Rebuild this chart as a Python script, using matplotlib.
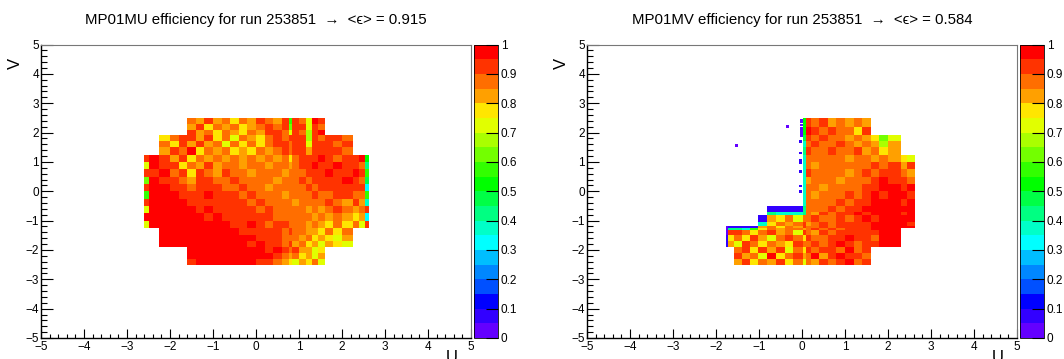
import numpy as np
import matplotlib
matplotlib.use('Agg')
import matplotlib.pyplot as plt
from matplotlib.colors import ListedColormap
from matplotlib.ticker import MultipleLocator

plt.rcParams['font.family'] = ['Liberation Sans', 'DejaVu Sans']

n = np.nan

titles = ['MP01MU efficiency for run 253851  \u2192  <\u03f5> = 0.915',
          'MP01MV efficiency for run 253851  \u2192  <\u03f5> = 0.584']

# ROOT palette, bottom to top
palette = ['#6400ff', '#3200ff', '#0000ff', '#0050ff', '#0087ff', '#00beff', '#00ffff',
           '#00ffc8', '#00ff82', '#00ff46', '#00ff00', '#32ff00', '#73ff00', '#aaff00',
           '#e1ff00', '#ffe600', '#ffa000', '#ff6e00', '#ff3300', '#ff0000']

mu_u = [-2.6, -2.5, -2.25, -2.0, -1.8, -1.6, -1.4, -1.2, -1.0, -0.8, -0.6, -0.4, -0.2, 0, 0.2,
        0.4, 0.6, 0.77, 0.83, 1.0, 1.17, 1.3, 1.45, 1.6, 1.8, 2.0, 2.25, 2.4, 2.54, 2.63]
mu_v = [-2.5, -2.3, -2.1, -1.89, -1.7, -1.5, -1.24, -1, -0.75, -0.5, -0.25, 0, 0.25, 0.5, 0.75,
        1, 1.235, 1.5, 1.7, 1.92, 2.1, 2.3, 2.5]

# rows written top (v=2.5) to bottom (v=-2.5)
mu_eff = [
    [n]*5 + [.87, .82, .92, .82, .87, .77, .87, .82, .92, .87, .82, .92, .55, .92, .87, .72, .97, .92] + [n]*6,
    [n]*5 + [.82, .92, .77, .87, .82, .87, .77, .82, .87, .92, .87, .92, .62, .92, .92, .72, .92, .87] + [n]*6,
    [n]*5 + [.92, .82, .87, .77, .87, .82, .77, .87, .82, .92, .92, .87, .72, .92, .87, .68, .92, .97] + [n]*6,
    [n]*2 + [.77, .87, .92, .92, .82, .92, .77, .87, .72, .87, .82, .77, .87, .92, .87, .92, .92, .92, .68, .92, .87, .92, .92, .87] + [n]*3,
    [n]*2 + [.87, .77, .92, .82, .92, .82, .87, .72, .87, .77, .87, .77, .87, .92, .92, .87, .92, .92, .72, .92, .92, .92, .87, .92] + [n]*3,
    [n]*2 + [.82, .92, .87, .97, .77, .87, .82, .87, .77, .82, .77, .87, .82, .87, .92, .87, .92, .92, .82, .92, .92, .92, .92, .87] + [n]*3,
    [.92, .97, .92, .82, .92, .77, .87, .82, .87, .82, .87, .82, .87, .82, .87, .82, .87, .77, .87, .92, .92, .92, .97, .92, .87, .92, .92, .97, .50],
    [.72, .97, .92, .92, .77, .87, .82, .92, .82, .87, .87, .82, .87, .87, .82, .87, .87, .82, .87, .92, .92, .97, .92, .92, .97, .92, .92, .87, .40],
    [.92, .92, .97, .87, .92, .77, .92, .87, .82, .92, .87, .87, .82, .87, .87, .87, .82, .87, .87, .87, .92, .92, .92, .97, .92, .92, .97, .92, .55],
    [.60, .97, .92, .92, .87, .82, .92, .92, .87, .87, .92, .87, .87, .87, .87, .82, .87, .87, .87, .92, .87, .92, .92, .92, .92, .97, .92, .87, .45],
    [.92, .97, .97, .92, .92, .87, .92, .92, .92, .87, .87, .92, .87, .87, .82, .87, .87, .87, .87, .87, .92, .87, .92, .92, .92, .92, .92, .92, .30],
    [.55, .97, .97, .97, .92, .92, .92, .97, .92, .92, .92, .87, .92, .87, .87, .87, .82, .87, .87, .87, .87, .92, .87, .87, .92, .92, .87, .87, .55],
    [.92, .97, .97, .97, .97, .92, .92, .92, .92, .92, .92, .92, .87, .92, .87, .87, .87, .87, .82, .87, .87, .87, .87, .92, .87, .82, .92, .82, .35],
    [.72, .97, .97, .97, .97, .97, .92, .97, .92, .92, .92, .92, .92, .87, .92, .87, .87, .87, .87, .87, .82, .87, .82, .87, .92, .87, .82, .87, .92],
    [.97, .97, .97, .97, .97, .97, .97, .92, .97, .92, .92, .92, .92, .92, .92, .87, .87, .87, .87, .87, .87, .82, .87, .82, .87, .82, .77, .82, .30],
    [.72, .97, .97, .97, .97, .97, .97, .97, .97, .97, .92, .92, .97, .92, .87, .92, .92, .87, .87, .87, .82, .87, .82, .77, .87, .77, .87, .72, .92],
    [n]*2 + [.97, .98, .98, .98, .98, .97, .97, .97, .97, .92, .92, .92, .92, .92, .87, .92, .87, .87, .82, .82, .77, .87, .77, .87] + [n]*3,
    [n]*2 + [.98, .98, .98, .98, .98, .98, .97, .97, .97, .97, .97, .92, .92, .92, .87, .87, .87, .82, .87, .77, .82, .77, .72, .82] + [n]*3,
    [n]*2 + [.98, .98, .98, .98, .98, .98, .98, .98, .97, .97, .92, .97, .92, .92, .87, .92, .82, .87, .77, .82, .72, .82, .77, .70] + [n]*3,
    [n]*5 + [.98, .98, .98, .98, .98, .98, .98, .97, .97, .92, .97, .92, .87, .92, .82, .82, .72, .77] + [n]*6,
    [n]*5 + [.98, .98, .98, .98, .98, .98, .97, .97, .97, .97, .92, .87, .82, .87, .77, .82, .72, .82] + [n]*6,
    [n]*5 + [.92, .98, .98, .98, .98, .98, .97, .97, .92, .92, .87, .82, .77, .72, .82, .77, .87, .72] + [n]*6,
]

mv_u = [-1.77, -1.72, -1.58, -1.4, -1.2, -1.02, -0.82, -0.6, -0.4, -0.2, 0.015, 0.085, 0.2, 0.4,
        0.6, 0.8, 1.0, 1.2, 1.4, 1.6, 1.8, 2.0, 2.3, 2.45, 2.63]
mv_v = [-2.5, -2.3, -2.1, -1.89, -1.7, -1.5, -1.32, -1.26, -1.19, -1.05, -0.8, -0.7, -0.5, -0.25, 0,
        0.25, 0.5, 0.75, 1, 1.235, 1.5, 1.7, 1.92, 2.2, 2.5]

mv_eff = [
    [n]*10 + [.52, .92, .87, .92, .82, .87, .82, .87, .82] + [n]*5,
    [n]*10 + [.50, .97, .92, .87, .92, .87, .87, .77, .92] + [n]*5,
    [n]*10 + [.48, .92, .87, .92, .87, .87, .82, .87, .82, .77, .62, .72] + [n]*2,
    [n]*10 + [.38, .87, .92, .87, .87, .92, .87, .82, .87, .82, .65, .82] + [n]*2,
    [n]*10 + [.40, .92, .87, .87, .92, .87, .87, .92, .82, .87, .77, .82] + [n]*2,
    [n]*10 + [.38, .87, .87, .87, .87, .87, .82, .87, .87, .82, .87, .82, .77, .72],
    [n]*10 + [.36, .87, .82, .87, .87, .87, .87, .87, .87, .92, .87, .92, .82, .92],
    [n]*10 + [.38, .92, .87, .87, .87, .87, .82, .87, .92, .87, .92, .92, .87, .82],
    [n]*10 + [.36, .82, .87, .87, .87, .82, .87, .87, .87, .92, .97, .92, .92, .87],
    [n]*10 + [.38, .87, .87, .82, .87, .87, .87, .87, .92, .92, .97, .97, .92, .97],
    [n]*10 + [.36, .87, .82, .87, .87, .87, .92, .87, .92, .97, .92, .97, .97, .92],
    [n]*10 + [.38, .87, .87, .87, .87, .92, .87, .92, .92, .97, .97, .97, .92, .97],
    [n]*6 + [.06, .07, .05, .06, .42, .87, .87, .87, .92, .87, .92, .92, .97, .97, .97, .97, .97, .97],
    [n]*6 + [.40, .38, .36, .38, .40, .87, .82, .92, .87, .92, .92, .97, .92, .97, .97, .97, .92, .97],
    [n]*5 + [.06, .82, .77, .87, .72, .87, .87, .92, .87, .87, .92, .87, .92, .97, .92, .97, .97, .97, .97],
    [n]*5 + [.38, .77, .87, .82, .87, .92, .82, .87, .92, .87, .92, .92, .92, .92, .97, .97, .97, .97, .92],
    [.04, .06, .05, .06, .08, .82, .87, .77, .87, .82, .92, .87, .87, .92, .87, .92, .92, .92, .92, .97, .97, .97, .97, .97],
    [.04, .40, .42, .38, .55, .77, .87, .82, .87, .87, .82, .87, .92, .87, .92, .87, .92, .92, .92, .97, .98, .98] + [n]*2,
    [.03, .92, .92, .87, .77, .87, .92, .82, .87, .72, .92, .87, .82, .92, .87, .92, .92, .92, .92, .92, .98, .98] + [n]*2,
    [.05, .77, .87, .77, .92, .82, .72, .87, .92, .87, .77, .92, .87, .87, .92, .92, .97, .92, .92, .87, .98, .98] + [n]*2,
    [.06, .82, .72, .92, .87, .77, .87, .82, .77, .92, .87, .87, .92, .87, .92, .97, .92, .87, .92, .92, .98, .98] + [n]*2,
    [n]*2 + [.87, .92, .77, .92, .82, .92, .72, .87, .77, .92, .87, .92, .92, .87, .97, .87, .92] + [n]*5,
    [n]*2 + [.92, .82, .87, .72, .97, .77, .87, .92, .82, .87, .97, .82, .92, .97, .92, .92, .87] + [n]*5,
    [n]*2 + [.82, .92, .77, .87, .82, .92, .77, .87, .72, .87, .82, .92, .87, .92, .97, .87, .92] + [n]*5,
]

# isolated dead cells left of the MV active area
mv_stray_u = [-1.53, -0.33, -0.01, -0.01, -0.01, -0.01, -0.01, -0.01, -0.01, -0.03, -0.03, -0.03, -0.03, -0.03, -0.03, -0.03]
mv_stray_v = [1.56, 2.2, 2.43, 2.36, 2.26, 2.15, 2.08, 1.98, 1.9, 1.69, 1.3, 1.06, 0.97, 0.67, 0.18, -0.02]
mv_stray_eff = [.02, .02, .04, .03, .04, .03, .03, .03, .04, .05, .05, .05, .05, .05, .05, .05]


def draw_panel(fig, left, u, v, eff, title, cmap):
    W, H = 1064., 359.
    ax = fig.add_axes([left/W, 1 - 338/H, 430/W, 293.5/H])
    mesh = ax.pcolormesh(u, v, np.array(eff)[::-1], cmap=cmap, vmin=0, vmax=1, linewidth=0)
    ax.set_xlim(-5, 5)
    ax.set_ylim(-5, 5)
    ax.xaxis.set_major_locator(MultipleLocator(1))
    ax.yaxis.set_major_locator(MultipleLocator(1))
    ax.xaxis.set_minor_locator(MultipleLocator(0.2))
    ax.yaxis.set_minor_locator(MultipleLocator(0.2))
    ax.tick_params(axis='x', which='major', direction='in', length=6.5, width=0.8, labelsize=8.5, pad=2.5)
    ax.tick_params(axis='x', which='minor', direction='in', length=3, width=0.8)
    ax.tick_params(axis='y', which='major', direction='in', length=8.6, width=0.8, labelsize=8.5, pad=1.5)
    ax.tick_params(axis='y', which='minor', direction='in', length=4.3, width=0.8)
    for side in ['top', 'right']:
        ax.spines[side].set_color('#777777')
    ax.spines['left'].set_linewidth(1.0)
    ax.spines['bottom'].set_linewidth(1.0)

    fig.text((left + 215)/W, 1 - 20/H, title, ha='center', va='center', fontsize=10.8)
    fig.text((left - 26)/W, 1 - 63/H, 'V', ha='center', va='center', fontsize=12, rotation=90)
    fig.text((left + 411)/W, 1 - 358/H, 'U', ha='center', va='center', fontsize=12)

    cax = fig.add_axes([(left + 433)/W, 1 - 338/H, 24/W, 293.5/H])
    cbar = fig.colorbar(mesh, cax=cax, ticks=np.arange(0, 1.01, 0.1), format='%g')
    cbar.ax.tick_params(direction='in', length=8.6, width=0.8, labelsize=8.5, pad=2)
    cbar.outline.set_linewidth(0.6)
    return ax


fig = plt.figure(figsize=(10.64, 3.59), dpi=100)
cmap = ListedColormap(palette)

draw_panel(fig, 41, mu_u, mu_v, mu_eff, titles[0], cmap)
ax_mv = draw_panel(fig, 587, mv_u, mv_v, mv_eff, titles[1], cmap)
ax_mv.scatter(mv_stray_u, mv_stray_v, c=mv_stray_eff, cmap=cmap, vmin=0, vmax=1,
              marker='s', s=4, linewidths=0)

fig.savefig('out.png', dpi=100)
